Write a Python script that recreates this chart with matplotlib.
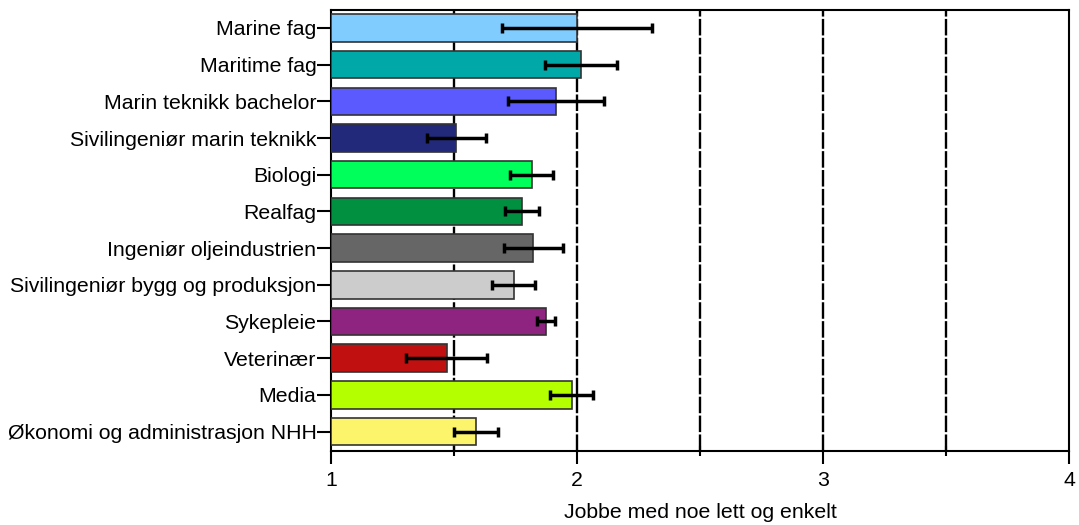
import numpy as np
import matplotlib
matplotlib.use("Agg")
import matplotlib.pyplot as plt
from matplotlib.ticker import MultipleLocator

plt.rcParams['font.family'] = ['Liberation Sans', 'DejaVu Sans']

categories = ["Marine fag", "Maritime fag", "Marin teknikk bachelor",
              "Sivilingeniør marin teknikk", "Biologi", "Realfag",
              "Ingeniør oljeindustrien", "Sivilingeniør bygg og produksjon",
              "Sykepleie", "Veterinær", "Media",
              "Økonomi og administrasjon NHH"]
means = [2.00, 2.016, 1.915, 1.51, 1.816, 1.775, 1.822, 1.743, 1.874, 1.47, 1.978, 1.589]
errors = [0.305, 0.145, 0.194, 0.12, 0.088, 0.069, 0.12, 0.087, 0.038, 0.166, 0.089, 0.091]
colors = ["#80CCFF", "#00A8A8", "#5A5AFF", "#22287A", "#00FF5A", "#009040",
          "#666666", "#CCCCCC", "#8E2480", "#C01010", "#B4FF00", "#FCF46A"]

fig = plt.figure(figsize=(10.79, 5.25), dpi=100)
ax = fig.add_axes([331/1079, 1 - 451/525, (1069 - 331)/1079, (451 - 10)/525])

y = np.arange(len(categories))
base = 1.0
ax.barh(y, np.array(means) - base, left=base, height=0.75, color=colors,
        edgecolor="#333333", linewidth=1.2, zorder=3)
ax.errorbar(means, y, xerr=errors, fmt="none", ecolor="black", elinewidth=2.5,
            capsize=3.6, capthick=2.5, zorder=4)

# dark, finely dashed gridlines
for gx in [1.5, 2, 2.5, 3, 3.5]:
    ax.axvline(gx, color="black", linewidth=1.7, linestyle=(0, (7, 1)), zorder=1)

ax.set_xlim(1, 4)
ax.set_ylim(11.53, -0.49)
ax.set_yticks(y)
ax.set_yticklabels(categories, fontsize=15.3)
ax.xaxis.set_major_locator(MultipleLocator(1))
ax.xaxis.set_minor_locator(MultipleLocator(0.5))
ax.tick_params(axis="y", length=10, width=1.5, pad=0.5)
ax.tick_params(axis="x", which="major", length=9.5, width=1.5, pad=5, labelsize=15.3)
ax.tick_params(axis="x", which="minor", length=7, width=1.5, direction="inout")
ax.set_xlabel("Jobbe med noe lett og enkelt", fontsize=15.3, labelpad=9)

for s in ax.spines.values():
    s.set_linewidth(1.5)
    s.set_color("black")

fig.savefig("out.png", dpi=100)
